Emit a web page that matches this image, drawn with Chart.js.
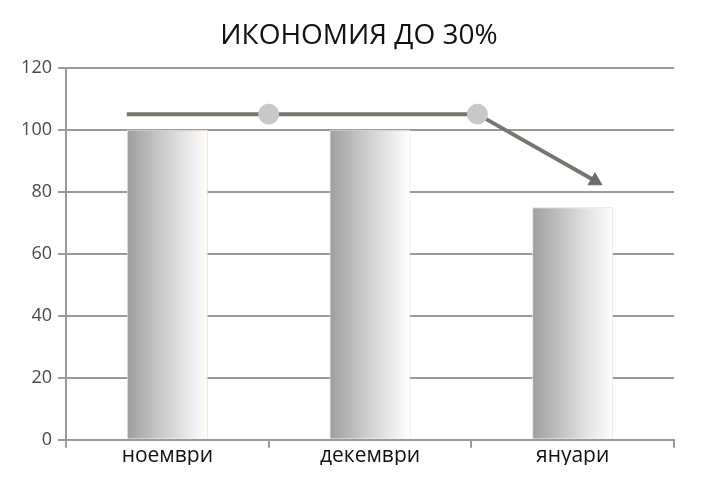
<!DOCTYPE html>
<html>
<head>
<meta charset="utf-8">
<script src="https://cdn.jsdelivr.net/npm/chart.js@4.4.0/dist/chart.umd.min.js"></script>
<style>
  html, body { margin: 0; padding: 0; background: #fff; }
</style>
</head>
<body>
<canvas id="savings-chart" width="718" height="487"></canvas>
<script>
const titleText = 'ИКОНОМИЯ ДО 30%'
const months = ['ноември', 'декември', 'януари']
const barValues = [100, 100, 75]
const yTicks = [0, 20, 40, 60, 80, 100, 120]

// trend line with an arrow, x in category units (0 = first month)
const trendX = [-0.2, 0.5, 1.53, 2.11]
const trendY = [105, 105, 105, 83.5]

const barWidthShare = 0.4

const barGradient = (context) => {
  const chart = context.chart
  const xScale = chart.scales.x
  if (!chart.chartArea || !xScale) return '#c0c0c0'
  const center = xScale.getPixelForValue(context.dataIndex)
  const half = (xScale.width / months.length) * barWidthShare / 2
  const g = chart.ctx.createLinearGradient(center - half, 0, center + half, 0)
  g.addColorStop(0, '#9e9e9e')
  g.addColorStop(0.55, '#d6d6d6')
  g.addColorStop(1, '#ffffff')
  return g
}

const ctx = document.getElementById('savings-chart').getContext('2d')

new Chart(ctx, {
  data: {
    labels: months,
    datasets: [
      {
        type: 'bar',
        data: barValues,
        backgroundColor: barGradient,
        borderColor: '#f6dcc0',
        borderWidth: 1,
        grouped: false,
        barPercentage: barWidthShare,
        categoryPercentage: 1,
        order: 2,
      },
      {
        type: 'line',
        xAxisID: 'x2',
        data: trendX.map((x, i) => ({ x: x, y: trendY[i] })),
        borderColor: '#7a746f',
        borderWidth: 4,
        pointRadius: [0, 10, 10, 8],
        pointHoverRadius: [0, 10, 10, 8],
        pointStyle: ['circle', 'circle', 'circle', 'triangle'],
        pointRotation: [0, 0, 0, 120],
        pointBackgroundColor: ['#c8c8c8', '#c8c8c8', '#c8c8c8', '#6c6c6c'],
        pointBorderColor: ['#c8c8c8', '#c8c8c8', '#c8c8c8', '#6c6c6c'],
        pointBorderWidth: 1,
        tension: 0,
        order: 1,
      },
    ],
  },
  options: {
    responsive: false,
    animation: false,
    layout: {
      padding: { top: 10, right: 0, bottom: 22, left: 0 },
    },
    scales: {
      x: {
        type: 'category',
        offset: true,
        grid: {
          offset: true,
          drawOnChartArea: false,
          color: '#9a9a9a',
          lineWidth: 2,
          tickLength: 8,
        },
        border: { color: '#9a9a9a', width: 2 },
        ticks: {
          color: '#111',
          padding: -4,
          font: { family: 'Open Sans', size: 21 },
        },
      },
      x2: {
        type: 'linear',
        min: -0.5,
        max: months.length - 0.5,
        display: false,
      },
      y: {
        min: yTicks[0],
        max: yTicks[yTicks.length - 1],
        afterFit: (scale) => { scale.width = 66 },
        afterBuildTicks: (scale) => { scale.ticks = yTicks.map(v => ({ value: v })) },
        grid: {
          color: '#9a9a9a',
          lineWidth: 2,
          tickLength: 8,
        },
        border: { color: '#9a9a9a', width: 2 },
        ticks: {
          color: '#4a4a4a',
          padding: 6,
          font: { family: 'Open Sans', size: 18 },
        },
      },
      // empty axis that only keeps the right margin
      yRight: {
        position: 'right',
        afterFit: (scale) => { scale.width = 44 },
        grid: { display: false },
        border: { display: false },
        ticks: { display: false },
      },
    },
    plugins: {
      legend: { display: false },
      tooltip: { enabled: false },
      title: {
        display: true,
        text: titleText,
        color: '#111',
        font: { family: 'Open Sans', size: 28, weight: 'normal' },
        padding: { top: 9, bottom: 15 },
      },
    },
  },
})
</script>
</body>
</html>
